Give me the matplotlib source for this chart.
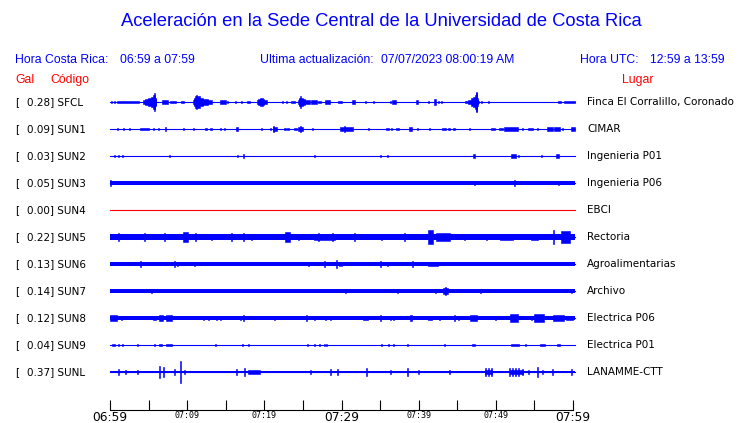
import matplotlib.pyplot as plt

# Estaciones, pico en gal y lugar
codes = ['SFCL', 'SUN1', 'SUN2', 'SUN3', 'SUN4', 'SUN5', 'SUN6', 'SUN7', 'SUN8', 'SUN9', 'SUNL']
gal = [0.28, 0.09, 0.03, 0.05, 0.00, 0.22, 0.13, 0.14, 0.12, 0.04, 0.37]
places = ['Finca El Corralillo, Coronado', 'CIMAR', 'Ingenieria P01', 'Ingenieria P06', 'EBCI',
          'Rectoria', 'Agroalimentarias', 'Archivo', 'Electrica P06', 'Electrica P01', 'LANAMME-CTT']

# nivel de ruido de fondo (semi-amplitud en gal)
bands = [0, 0, 0, 0.055, 0, 0.09, 0.05, 0.05, 0.058, 0, 0.045]

# eventos: (minuto inicio, minuto fin, semi-amplitud en gal), minutos desde 06:59
sfcl = [(0.2, 0.2, 0.03), (0.6, 0.6, 0.03), (0.9, 3.7, 0.04),
        (4.3, 6.0, 0.05), (4.6, 5.95, 0.08), (4.9, 5.9, 0.12), (5.3, 5.85, 0.17), (5.6, 5.8, 0.22), (5.75, 5.75, 0.27),
        (6.7, 7.5, 0.05), (7.8, 8.6, 0.04), (9.2, 9.6, 0.04),
        (10.8, 13.2, 0.05), (10.85, 12.7, 0.08), (10.9, 12.1, 0.13), (11.0, 11.6, 0.18), (11.1, 11.3, 0.21),
        (14.3, 15.0, 0.05), (15.2, 15.2, 0.03), (16.3, 16.3, 0.03), (17.1, 17.1, 0.03), (17.7, 18.1, 0.03),
        (19.0, 20.3, 0.05), (19.2, 20.0, 0.09), (19.4, 19.8, 0.13),
        (22.3, 22.3, 0.03), (22.9, 22.9, 0.04), (23.4, 24.0, 0.04),
        (24.4, 25.9, 0.05), (24.45, 25.3, 0.09), (24.5, 25.0, 0.13), (24.6, 24.7, 0.19),
        (26.1, 26.8, 0.05), (27.0, 27.4, 0.04), (27.9, 28.5, 0.05), (29.6, 30.1, 0.04),
        (31.3, 31.7, 0.06), (33.1, 33.1, 0.03), (34.1, 34.1, 0.03), (36.3, 36.3, 0.04), (36.6, 37.0, 0.06),
        (39.6, 39.9, 0.05), (41.3, 41.3, 0.04), (42.0, 42.3, 0.08), (42.6, 42.6, 0.04), (43.0, 43.0, 0.04),
        (46.0, 47.8, 0.04), (46.4, 47.75, 0.07), (46.8, 47.7, 0.11), (47.1, 47.6, 0.16), (47.3, 47.6, 0.22),
        (47.45, 47.55, 0.27), (47.5, 47.5, 0.30),
        (48.1, 48.1, 0.04), (49.0, 49.0, 0.03), (58.1, 58.5, 0.04), (58.8, 60.2, 0.04)]
sun1 = [(1.0, 1.0, 0.02), (1.8, 1.8, 0.04), (2.5, 2.5, 0.02), (3.9, 5.0, 0.04), (5.7, 5.7, 0.04),
        (6.3, 6.3, 0.04), (7.2, 7.2, 0.05), (9.5, 9.5, 0.04), (10.8, 10.8, 0.04), (12.3, 12.6, 0.04),
        (12.9, 13.2, 0.04), (14.3, 14.3, 0.04), (14.8, 14.8, 0.04), (16.3, 16.6, 0.05), (19.6, 19.6, 0.02),
        (20.8, 20.8, 0.04), (21.1, 21.7, 0.05), (21.2, 21.2, 0.08), (22.5, 22.8, 0.04), (23.0, 23.2, 0.04),
        (23.9, 24.2, 0.04), (24.4, 25.0, 0.05), (24.7, 24.7, 0.09), (26.2, 26.2, 0.03), (29.8, 31.5, 0.05),
        (30.4, 30.4, 0.08), (33.5, 33.5, 0.03), (35.8, 36.1, 0.04), (36.4, 36.6, 0.04), (37.0, 37.4, 0.04),
        (38.8, 39.2, 0.06), (39.8, 39.8, 0.03), (41.4, 41.4, 0.03), (43.0, 43.5, 0.04), (43.8, 44.1, 0.04),
        (44.4, 44.7, 0.04), (46.6, 46.6, 0.02), (49.4, 49.9, 0.04), (50.4, 50.9, 0.04), (51.0, 52.9, 0.05),
        (53.4, 53.4, 0.03), (54.2, 54.8, 0.04), (55.4, 55.4, 0.02), (56.6, 57.4, 0.05), (57.6, 58.3, 0.05),
        (58.6, 58.6, 0.03), (59.8, 60.2, 0.05)]
sun2 = [(0.6, 0.6, 0.04), (1.1, 1.1, 0.02), (1.6, 1.6, 0.02), (7.7, 7.7, 0.03), (16.5, 16.5, 0.03),
        (17.3, 17.3, 0.05), (26.5, 26.5, 0.03), (35.1, 35.1, 0.03), (35.9, 35.9, 0.02), (47.0, 47.3, 0.05),
        (52.0, 52.6, 0.05), (52.9, 52.9, 0.03), (55.9, 55.9, 0.02), (57.8, 58.2, 0.05)]
sun3 = [(0.1, 0.1, 0.08), (47.2, 47.2, 0.07), (52.4, 52.4, 0.08), (58.1, 58.1, 0.07)]
sun4 = []
sun5 = [(1.1, 1.1, 0.12), (4.5, 4.5, 0.12), (7.1, 7.1, 0.12), (9.5, 10.1, 0.17), (11.1, 11.1, 0.12),
        (13.2, 13.2, 0.10), (15.8, 15.8, 0.12), (17.3, 17.3, 0.12), (18.4, 18.4, 0.10), (22.7, 23.3, 0.17),
        (24.4, 24.4, 0.10), (26.5, 29.1, 0.10), (27.0, 27.0, 0.12), (28.8, 28.8, 0.12), (31.7, 31.7, 0.12),
        (35.2, 35.2, 0.10), (38.2, 38.2, 0.12), (41.2, 41.8, 0.21), (42.3, 44.0, 0.12), (45.9, 45.9, 0.10),
        (48.8, 48.8, 0.10), (50.5, 52.2, 0.10), (54.6, 55.5, 0.10), (57.5, 57.5, 0.22), (58.5, 59.6, 0.18)]
sun6 = [(4.0, 4.0, 0.08), (8.3, 8.3, 0.08), (8.7, 8.7, 0.06), (11.0, 11.0, 0.06), (25.7, 25.7, 0.06),
        (27.8, 27.8, 0.08), (29.4, 29.4, 0.13), (29.7, 29.7, 0.06), (30.0, 30.0, 0.06), (35.1, 35.1, 0.10),
        (36.0, 36.0, 0.05), (39.2, 39.2, 0.09), (41.2, 42.5, 0.05)]
sun7 = [(5.4, 5.4, 0.05), (16.4, 16.4, 0.04), (16.8, 16.8, 0.04), (26.8, 26.8, 0.04), (30.5, 30.5, 0.06),
        (37.3, 37.3, 0.05), (39.5, 39.5, 0.04), (42.2, 42.2, 0.05), (43.2, 43.8, 0.09), (43.5, 43.5, 0.135),
        (48.0, 48.0, 0.05), (52.1, 52.1, 0.04), (56.5, 56.5, 0.04), (58.3, 58.3, 0.04), (59.8, 59.8, 0.05)]
sun8 = [(0.0, 0.9, 0.09), (1.5, 1.5, 0.05), (5.6, 6.0, 0.06), (6.3, 6.9, 0.10), (7.3, 8.0, 0.08),
        (12.1, 12.1, 0.05), (12.8, 12.8, 0.05), (13.8, 13.8, 0.05), (14.3, 14.3, 0.05), (16.9, 16.9, 0.06),
        (17.3, 17.3, 0.10), (19.1, 19.1, 0.04), (21.3, 21.3, 0.05), (25.5, 25.5, 0.08), (26.5, 26.5, 0.06),
        (27.9, 27.9, 0.06), (28.6, 28.6, 0.06), (32.8, 33.4, 0.06), (35.1, 35.1, 0.10), (36.3, 36.3, 0.06),
        (36.8, 36.8, 0.06), (38.9, 39.1, 0.08), (41.2, 41.7, 0.06), (42.7, 42.7, 0.06), (44.6, 44.6, 0.09),
        (45.1, 45.1, 0.06), (46.7, 47.5, 0.10), (50.0, 50.0, 0.06), (51.8, 52.9, 0.13), (54.6, 54.6, 0.06),
        (55.0, 56.3, 0.12), (57.4, 58.8, 0.08), (59.1, 60.0, 0.05)]
sun9 = [(0.3, 0.7, 0.04), (1.1, 1.1, 0.03), (1.6, 1.6, 0.03), (3.5, 3.5, 0.03), (5.8, 5.8, 0.03),
        (6.3, 6.7, 0.04), (7.3, 8.0, 0.04), (13.7, 13.7, 0.02), (17.2, 17.2, 0.04), (17.9, 17.9, 0.02),
        (25.6, 25.6, 0.03), (26.5, 26.5, 0.03), (27.2, 27.2, 0.03), (27.8, 27.8, 0.03), (28.0, 28.0, 0.03),
        (35.1, 35.3, 0.04), (36.1, 36.1, 0.03), (36.8, 36.8, 0.02), (38.6, 38.6, 0.02), (43.4, 43.4, 0.02),
        (46.9, 47.3, 0.04), (52.0, 53.0, 0.04), (53.8, 53.8, 0.02), (55.7, 56.4, 0.04), (57.9, 58.3, 0.04)]
sunl = [(1.1, 1.1, 0.10), (2.0, 2.0, 0.06), (3.5, 3.5, 0.06), (6.4, 6.4, 0.20), (6.9, 6.9, 0.17),
        (8.3, 8.3, 0.10), (9.1, 9.1, 0.35), (9.7, 9.7, 0.06), (16.4, 16.4, 0.10), (17.4, 17.4, 0.14),
        (17.9, 19.4, 0.06), (26.0, 26.0, 0.06), (28.6, 28.6, 0.10), (29.5, 29.5, 0.10), (33.2, 33.2, 0.13),
        (36.3, 36.3, 0.06), (38.5, 38.5, 0.13), (40.0, 40.0, 0.06), (44.0, 44.0, 0.07),
        (48.6, 49.5, 0.06), (48.6, 48.6, 0.12), (49.0, 49.0, 0.12), (49.4, 49.4, 0.12),
        (51.8, 53.5, 0.06), (51.8, 51.8, 0.12), (52.2, 52.2, 0.12), (52.6, 52.6, 0.12), (53.0, 53.0, 0.12),
        (53.4, 53.4, 0.10), (54.2, 54.2, 0.06), (55.4, 55.4, 0.16), (56.0, 56.0, 0.06), (57.4, 57.4, 0.10),
        (59.8, 59.8, 0.08)]
events = [sfcl, sun1, sun2, sun3, sun4, sun5, sun6, sun7, sun8, sun9, sunl]
trace_colors = ['blue'] * 4 + ['red'] + ['blue'] * 6

tick_labels = ['06:59', '', '07:09', '', '07:19', '', '07:29', '', '07:39', '', '07:49', '', '07:59']

W, H = 740, 423
fig = plt.figure(figsize=(W / 100, H / 100), dpi=100)

def fx(x):
    return x / W

def fy(y):
    return 1 - y / H

ROW = 27 / 32  # separacion entre trazas (gal), 32 px por gal
ax = fig.add_axes([fx(110), fy(390), 463 / W, 302 / H])
ax.set_xlim(0, 60)
ax.set_ylim(0.4375 - 302 / 32, 0.4375)
ax.axis('off')

PIX = 60 / 463  # un pixel en minutos
for i, code in enumerate(codes):
    y0 = -i * ROW
    c = trace_colors[i]
    ax.plot([0, 60.25], [y0, y0], color=c, lw=0.8, clip_on=False)
    if bands[i]:
        ax.fill_between([0, 60.25], y0 - bands[i], y0 + bands[i], color=c, lw=0, clip_on=False)
    ev = events[i]
    if ev:
        lefts = [t0 if t1 > t0 else t0 - PIX / 2 for t0, t1, a in ev]
        widths = [max(t1 - t0, PIX) for t0, t1, a in ev]
        heights = [2 * a for t0, t1, a in ev]
        bottoms = [y0 - a for t0, t1, a in ev]
        ax.bar(lefts, heights, width=widths, bottom=bottoms, align='edge', color=c, lw=0.4,
               edgecolor=c, clip_on=False)

    ty = fy(102 + 27 * i)
    fig.text(fx(15), ty, '[', fontsize=7.5, va='center')
    fig.text(fx(27), ty, '%.2f] %s' % (gal[i], code), fontsize=7.5, va='center')
    fig.text(fx(587), ty, places[i], fontsize=7.5, va='center')

# eje de tiempo
tax = fig.add_axes([fx(110), fy(410), 463 / W, 20 / H])
tax.set_xlim(0, 60)
tax.patch.set_alpha(0)
for s in ['top', 'left', 'right']:
    tax.spines[s].set_visible(False)
tax.spines['bottom'].set_linewidth(0.8)
tax.set_yticks([])
tax.set_xticks(range(0, 61, 5))
tax.set_xticklabels(tick_labels)
tax.tick_params(axis='x', direction='in', length=7, width=0.8, pad=0.5)
for k, lab in enumerate(tax.get_xticklabels()):
    if k % 6 == 0:
        lab.set_fontsize(8.8)
    else:
        lab.set_fontsize(6)
        lab.set_family('DejaVu Sans Mono')

# encabezado
hf = 'Liberation Sans'
fig.text(fx(381), fy(22), 'Aceleración en la Sede Central de la Universidad de Costa Rica',
         fontsize=13.2, color='blue', family=hf, ha='center', va='center')
fig.text(fx(15), fy(60), 'Hora Costa Rica:', fontsize=8.8, color='blue', family=hf, va='center')
fig.text(fx(120), fy(60), '06:59 a 07:59', fontsize=8.8, color='blue', family=hf, va='center')
fig.text(fx(260), fy(60), 'Ultima actualización:', fontsize=8.8, color='blue', family=hf, va='center')
fig.text(fx(381), fy(60), '07/07/2023 08:00:19 AM', fontsize=8.8, color='blue', family=hf, va='center')
fig.text(fx(580), fy(60), 'Hora UTC:', fontsize=8.8, color='blue', family=hf, va='center')
fig.text(fx(650), fy(60), '12:59 a 13:59', fontsize=8.8, color='blue', family=hf, va='center')
fig.text(fx(15), fy(80), 'Gal', fontsize=8.8, color='red', family=hf, va='center')
fig.text(fx(50), fy(80), 'Código', fontsize=8.8, color='red', family=hf, va='center')
fig.text(fx(622), fy(80), 'Lugar', fontsize=8.8, color='red', family=hf, va='center')

fig.savefig('out.png', dpi=100)
